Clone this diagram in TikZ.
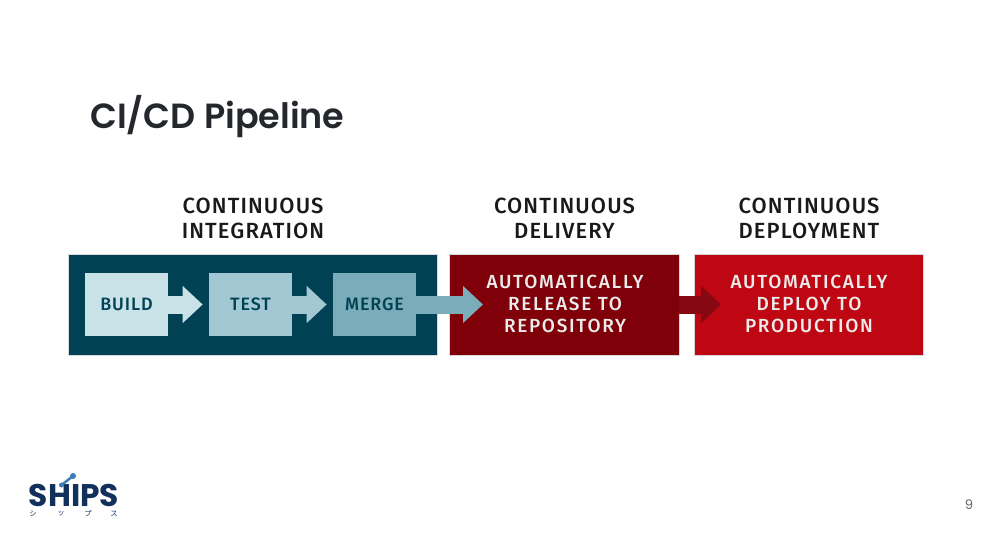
\documentclass[tikz,border=0pt]{standalone}
\usepackage{fontspec}
\usepackage{tikz}
\setmainfont{Poppins}[BoldFont={Poppins SemiBold}]
\newfontfamily\dinfont[LetterSpace=5.0, BoldFont={Fira Sans Medium}]{Fira Sans}
\newfontfamily\widefont[LetterSpace=9.0, BoldFont={Fira Sans Medium}]{Fira Sans}
\newfontfamily\logofont{Poppins}
\newfontfamily\kanafont{Noto Sans CJK JP}
\usetikzlibrary{arrows.meta}
\definecolor{navy}{HTML}{004153}
\definecolor{buildblue}{HTML}{C9E2E8}
\definecolor{testblue}{HTML}{A2C8D4}
\definecolor{mergeblue}{HTML}{7AACBA}
\definecolor{darkred}{HTML}{7F0008}
\definecolor{brightred}{HTML}{BE0712}
\definecolor{arrowred}{HTML}{860810}
\definecolor{titleink}{HTML}{24272C}
\definecolor{logoblue}{HTML}{3B7DB8}
\definecolor{logonavy}{HTML}{12305C}
\tikzset{panel/.style = {minimum width=#1*0.02cm, minimum height=2.02cm, inner sep=0pt,
                         draw=black!15, line width=0.2pt}}
\tikzset{stepbox/.style = {minimum width=1.66cm, minimum height=1.28cm, inner sep=0pt,
                           text=navy, font=\dinfont\bfseries\fontsize{10.2}{12}\selectfont}}
\tikzset{heading/.style = {align=center, text=black!90, font=\dinfont\bfseries\fontsize{12.5}{14.3}\selectfont}}
\tikzset{whitetext/.style = {align=center, text=white!92!black, font=\widefont\bfseries\fontsize{10.8}{12.6}\selectfont}}
\tikzset{flow/.style = {line width=0.36cm, -{Triangle[length=0.4cm, width=0.72cm]}}}

\begin{document}
\begin{tikzpicture}[x=0.02cm, y=-0.02cm]
    \useasboundingbox (0, 0) rectangle (995, 534);

    \node [anchor=west, inner sep=0pt, text=titleink, font=\fontsize{19.9}{24}\selectfont\bfseries] (title) at (90, 117) {CI/CD Pipeline};

    \node [panel=369, fill=navy] (integration) at (252.5, 304.5) {};
    \node [panel=230, fill=darkred] (delivery) at (564, 304.5) {};
    \node [panel=229, fill=brightred] (deployment) at (808.5, 304.5) {};

    \node [heading] (integrationhead) at (253, 218) {CONTINUOUS\\INTEGRATION};
    \node [heading] (deliveryhead) at (564.5, 218) {CONTINUOUS\\DELIVERY};
    \node [heading] (deploymenthead) at (809, 218) {CONTINUOUS\\DEPLOYMENT};

    \node [stepbox, fill=buildblue] (build) at (126.5, 304.5) {BUILD};
    \node [stepbox, fill=testblue] (test) at (250.5, 304.5) {TEST};
    \node [stepbox, fill=mergeblue] (merge) at (374.5, 304.5) {MERGE};

    \coordinate (releasetip) at (483, 304.5);
    \coordinate (deploytip) at (721, 304.5);

    \draw [flow, draw=buildblue, shorten >=0.12cm] (build) -- (test);
    \draw [flow, draw=testblue, shorten >=0.12cm] (test) -- (merge);
    \draw [flow, draw=mergeblue] (merge) -- (releasetip);
    \draw [flow, draw=arrowred] (delivery.east) -- (deploytip);

    \node [whitetext] (releasetext) at (565, 304) {AUTOMATICALLY\\RELEASE TO\\REPOSITORY};
    \node [whitetext] (deploytext) at (809, 304) {AUTOMATICALLY\\DEPLOY TO\\PRODUCTION};

    \node [inner sep=0pt, text=logonavy, font=\logofont\fontsize{17.8}{20}\selectfont\bfseries] (logo) at (74, 495) {SHIPS};
    \coordinate (logolow) at (61.5, 485);
    \coordinate (logohigh) at (73, 476);
    \draw [logoblue, line width=0.05cm] (logolow) -- (logohigh);
    \fill [logoblue] (logolow) circle [radius=0.05cm] (logohigh) circle [radius=0.06cm];

    \foreach \x/\kana in {33/シ, 61/ッ, 88/プ, 114/ス} {
      \node [inner sep=0pt, text=logonavy, font=\kanafont\fontsize{4.2}{5}\selectfont] (kana\x) at (\x, 514) {\kana};
    }

    \node [text=black!60, font=\fontsize{7.5}{9}\selectfont] (pagenumber) at (969, 505) {9};
\end{tikzpicture}
\end{document}
